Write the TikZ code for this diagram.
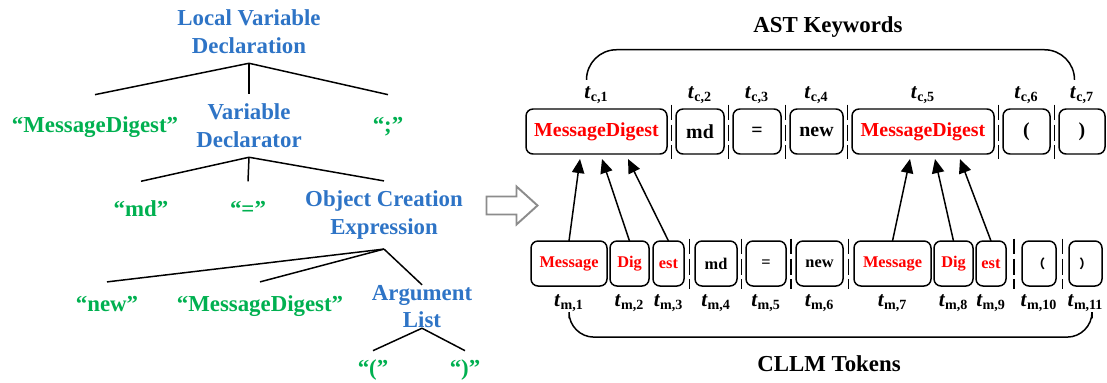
\documentclass[tikz,border=0pt]{standalone}
\usepackage{fontspec}
\setmainfont{Liberation Serif}
\newfontfamily\cjk{Noto Sans CJK SC}
\usepackage{xcolor}
\usetikzlibrary{positioning, arrows.meta, calc}

\definecolor{ruleblue}{RGB}{46,116,198}
\definecolor{leafgreen}{RGB}{0,176,80}
\definecolor{arrowgray}{RGB}{140,140,140}
\newcommand{\tk}[2]{\textit{t}\textsubscript{#1,#2}}

\begin{document}
\begin{tikzpicture}[
      every node/.style={font=\bfseries, inner sep=0pt},
      rule/.style={align=center, text=ruleblue, inner ysep=5.5pt, font=\bfseries\fontsize{13}{15.6}\selectfont},
      term/.style={text=leafgreen, text height=9pt, text depth=3pt, inner ysep=7.8pt, font=\bfseries\fontsize{13}{15.6}\selectfont},
      branch/.style={line width=0.85pt},
      kw/.style={draw, rounded corners=4pt, line width=0.85pt, outer sep=0pt, minimum height=0.9cm, font=\bfseries\fontsize{11.3}{13}\selectfont},
      piece/.style={draw, rounded corners=4pt, line width=0.85pt, outer sep=0pt, minimum height=0.9cm, font=\bfseries\fontsize{9.3}{11}\selectfont},
      idx/.style={font=\bfseries\fontsize{12}{13}\selectfont},
      sepline/.style={line width=0.85pt, dash pattern=on 9pt off 2.5pt},
      tokarrow/.style={-{Triangle[length=8pt,width=7pt]}, line width=0.85pt},
      brace/.style={line width=0.85pt},
      title/.style={font=\bfseries\fontsize{13}{15.6}\selectfont}
    ]
    \useasboundingbox (0,0) rectangle (22.14,7.64);

    % syntax tree
    \node[rule] (lvd) at (4.98,7.01) {Local Variable\\Declaration};
    \node[term, inner ysep=12.5pt] (dig1) at (1.90,5.09) {“MessageDigest”};
    \node[rule] (vd) at (4.98,5.13) {Variable\\Declarator};
    \node[term, inner ysep=12.5pt] (semi) at (7.76,5.09) {“;”};
    \node[term, inner ysep=11pt] (md) at (2.82,3.41) {“md”};
    \node[term, inner ysep=11pt] (eq) at (4.96,3.41) {“=”};
    \node[rule] (oce) at (7.68,3.34) {Object Creation\\Expression};
    \node[term] (new) at (2.14,1.51) {“new”};
    \node[term] (dig2) at (5.20,1.51) {“MessageDigest”};
    \node[rule, inner ysep=0pt] (al) at (8.44,1.51) {Argument\\List};
    \node[term, inner ysep=4.8pt] (lp) at (7.46,0.24) {“(”};
    \node[term, inner ysep=4.8pt] (rp) at (9.30,0.24) {“)”};

    \draw[branch] (lvd.south) -- (dig1.north);
    \draw[branch] (lvd.south) -- (vd.north);
    \draw[branch] (lvd.south) -- (semi.north);
    \draw[branch] (vd.south) -- (md.north);
    \draw[branch] (vd.south) -- (eq.north);
    \draw[branch] (vd.south) -- (oce.north);
    \draw[branch] (oce.south) -- (new.north);
    \draw[branch] (oce.south) -- (dig2.north);
    \draw[branch] (oce.south) -- (al.north);
    \draw[branch] (al.south) -- (lp.north);
    \draw[branch] (al.south) -- (rp.north);

    % conversion arrow
    \draw[arrowgray, line width=1.1pt] (9.73,3.71) -- (10.33,3.71) -- (10.33,3.91) -- (10.75,3.53)
      -- (10.33,3.15) -- (10.33,3.35) -- (9.73,3.35) -- cycle;

    % AST keywords
    \node[kw, minimum width=2.82cm, text=red] (c1) at (11.93,5.01) {MessageDigest};
    \node[kw, minimum width=0.96cm, right=0.18cm of c1] (c2) {md};
    \node[kw, minimum width=0.96cm, right=0.18cm of c2] (c3) {=};
    \node[kw, minimum width=1.06cm, right=0.18cm of c3] (c4) {new};
    \node[kw, minimum width=2.84cm, text=red, right=0.18cm of c4] (c5) {MessageDigest};
    \node[kw, minimum width=0.94cm, right=0.18cm of c5] (c6) {(};
    \node[kw, minimum width=0.92cm, right=0.18cm of c6] (c7) {)};

    \node[idx, above=0.09cm of c1] (tc1) {\tk{c}{1}};
    \node[idx, above=0.09cm of c2] (tc2) {\tk{c}{2}};
    \node[idx, above=0.09cm of c3] (tc3) {\tk{c}{3}};
    \node[idx, above=0.09cm of c4] (tc4) {\tk{c}{4}};
    \node[idx, above=0.09cm of c5] (tc5) {\tk{c}{5}};
    \node[idx, above=0.09cm of c6] (tc6) {\tk{c}{6}};
    \node[idx, above=0.09cm of c7] (tc7) {\tk{c}{7}};

    % CLLM tokens
    \node[piece, minimum width=1.52cm, text=red] (m1) at (11.38,2.37) {Message};
    \node[piece, minimum width=0.78cm, text=red, right=0.06cm of m1] (m2) {Dig};
    \node[piece, minimum width=0.62cm, text=red, right=0.08cm of m2] (m3) {est};
    \node[piece, minimum width=0.84cm, right=0.22cm of m3] (m4) {md};
    \node[piece, minimum width=0.80cm, right=0.18cm of m4] (m5) {=};
    \node[piece, minimum width=0.94cm, right=0.20cm of m5] (m6) {new};
    \node[piece, minimum width=1.54cm, text=red, right=0.22cm of m6] (m7) {Message};
    \node[piece, minimum width=0.78cm, text=red, right=0.06cm of m7] (m8) {Dig};
    \node[piece, minimum width=0.60cm, text=red, right=0.06cm of m8] (m9) {est};
    \node[piece, minimum width=0.68cm, right=0.32cm of m9] (m10) {\cjk\fontsize{7}{8}\selectfont（};
    \node[piece, minimum width=0.66cm, right=0.26cm of m10] (m11) {\cjk\fontsize{7}{8}\selectfont）};

    \node[idx, below=0.17cm of m1] (tm1) {\tk{m}{1}};
    \node[idx, below=0.17cm of m2] (tm2) {\tk{m}{2}};
    \node[idx, below=0.17cm of m3] (tm3) {\tk{m}{3}};
    \node[idx, below=0.17cm of m4] (tm4) {\tk{m}{4}};
    \node[idx, below=0.17cm of m5] (tm5) {\tk{m}{5}};
    \node[idx, below=0.17cm of m6] (tm6) {\tk{m}{6}};
    \node[idx, below=0.17cm of m7] (tm7) {\tk{m}{7}};
    \node[idx, below=0.17cm of m8] (tm8) {\tk{m}{8}};
    \node[idx, below=0.17cm of m9] (tm9) {\tk{m}{9}};
    \node[idx, below=0.17cm of m10] (tm10) {\tk{m}{10}};
    \node[idx, below=0.17cm of m11] (tm11) {\tk{m}{11}};

    % separators
    \draw[sepline] ($(c1.east)!0.5!(c2.west)$) ++(0,0.54) -- ++(0,-1.08);
    \draw[sepline] ($(c2.east)!0.5!(c3.west)$) ++(0,0.54) -- ++(0,-1.08);
    \draw[sepline] ($(c3.east)!0.5!(c4.west)$) ++(0,0.54) -- ++(0,-1.08);
    \draw[sepline] ($(c4.east)!0.5!(c5.west)$) ++(0,0.54) -- ++(0,-1.08);
    \draw[sepline] ($(c5.east)!0.5!(c6.west)$) ++(0,0.54) -- ++(0,-1.08);
    \draw[sepline] ($(c6.east)!0.5!(c7.west)$) ++(0,0.54) -- ++(0,-1.08);
    \draw[sepline] ($(m3.east)!0.5!(m4.west)$) ++(0,0.5) -- ++(0,-1.0);
    \draw[sepline] ($(m4.east)!0.5!(m5.west)$) ++(0,0.5) -- ++(0,-1.0);
    \draw[sepline] ($(m5.east)!0.5!(m6.west)$) ++(0,0.5) -- ++(0,-1.0);
    \draw[sepline] ($(m6.east)!0.5!(m7.west)$) ++(0,0.5) -- ++(0,-1.0);
    \draw[sepline] ($(m9.east)!0.5!(m10.west)$) ++(0,0.5) -- ++(0,-1.0);
    \draw[sepline] ($(m10.east)!0.5!(m11.west)$) ++(0,0.5) -- ++(0,-1.0);

    % token alignment
    \draw[tokarrow] (m1.north) -- ([xshift=-0.33cm, yshift=-0.1cm]c1.south);
    \draw[tokarrow] (m2.north) -- ([xshift=0.11cm, yshift=-0.1cm]c1.south);
    \draw[tokarrow] (m3.north) -- ([xshift=0.63cm, yshift=-0.1cm]c1.south);
    \draw[tokarrow] (m7.north) -- ([xshift=-0.26cm, yshift=-0.1cm]c5.south);
    \draw[tokarrow] (m8.north) -- ([xshift=0.24cm, yshift=-0.1cm]c5.south);
    \draw[tokarrow] (m9.north) -- ([xshift=0.74cm, yshift=-0.1cm]c5.south);

    % group titles
    \node[title] (ast) at (16.56,7.10) {AST Keywords};
    \node[title] (cllm) at (16.58,0.37) {CLLM Tokens};

    \draw[brace, rounded corners=0.6cm] ([xshift=-0.2cm, yshift=0.14cm]tc1.north)
      |- ([yshift=-0.24cm]ast.south) -| ([xshift=-0.15cm, yshift=0.14cm]tc7.north);
    \draw[brace, rounded corners=0.5cm] ([yshift=-0.12cm]tm1.south)
      |- ([yshift=0.36cm]cllm.north) -| ([xshift=0.13cm, yshift=-0.12cm]tm11.south);
  \end{tikzpicture}
\end{document}
